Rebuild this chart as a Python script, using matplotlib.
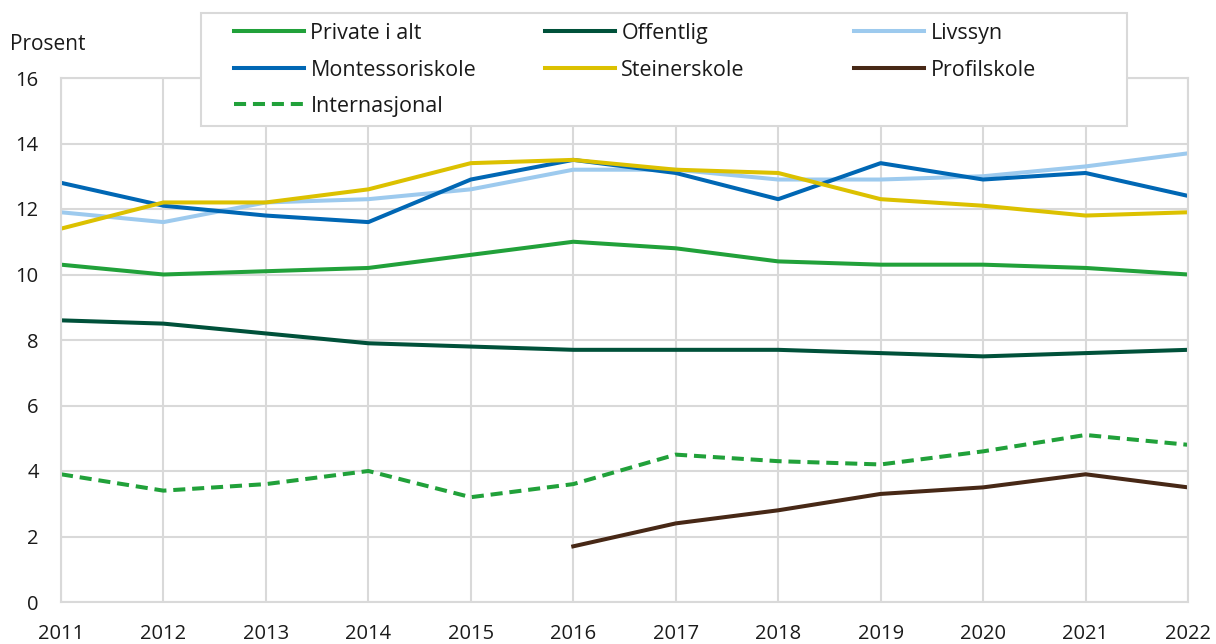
import numpy as np
import matplotlib
matplotlib.use("Agg")
import matplotlib.pyplot as plt
from matplotlib.patches import Rectangle

plt.rcParams['font.family'] = ['Open Sans', 'DejaVu Sans']

years = [2011, 2012, 2013, 2014, 2015, 2016, 2017, 2018, 2019, 2020, 2021, 2022]
private = [10.3, 10.0, 10.1, 10.2, 10.6, 11.0, 10.8, 10.4, 10.3, 10.3, 10.2, 10.0]
offentlig = [8.6, 8.5, 8.2, 7.9, 7.8, 7.7, 7.7, 7.7, 7.6, 7.5, 7.6, 7.7]
livssyn = [11.9, 11.6, 12.2, 12.3, 12.6, 13.2, 13.2, 12.9, 12.9, 13.0, 13.3, 13.7]
montessori = [12.8, 12.1, 11.8, 11.6, 12.9, 13.5, 13.1, 12.3, 13.4, 12.9, 13.1, 12.4]
steiner = [11.4, 12.2, 12.2, 12.6, 13.4, 13.5, 13.2, 13.1, 12.3, 12.1, 11.8, 11.9]
profil = [np.nan, np.nan, np.nan, np.nan, np.nan, 1.7, 2.4, 2.8, 3.3, 3.5, 3.9, 3.5]
internasjonal = [3.9, 3.4, 3.6, 4.0, 3.2, 3.6, 4.5, 4.3, 4.2, 4.6, 5.1, 4.8]

W, H = 1216, 644
fig = plt.figure(figsize=(W / 100, H / 100), dpi=100)
ax = fig.add_axes([61 / W, 1 - 602 / H, (1188 - 61) / W, (602 - 78) / H])

lw = 2.9
grid_c = '#d9d9d9'
text_c = '#1a1a1a'
l_priv, = ax.plot(years, private, color='#21a13a', lw=lw, label='Private i alt')
l_off, = ax.plot(years, offentlig, color='#00513a', lw=lw, label='Offentlig')
l_liv, = ax.plot(years, livssyn, color='#9dcaee', lw=lw, label='Livssyn')
l_mon, = ax.plot(years, montessori, color='#0067b4', lw=lw, label='Montessoriskole')
l_ste, = ax.plot(years, steiner, color='#dcc100', lw=lw, label='Steinerskole')
l_pro, = ax.plot(years, profil, color='#472816', lw=lw, label='Profilskole')
l_int, = ax.plot(years, internasjonal, color='#21a13a', lw=lw, dashes=(3, 1.7),
                 label='Internasjonal')
l_liv.set_zorder(1.9)

ax.set_xlim(2011, 2022)
ax.set_ylim(0, 16)
ax.set_xticks(years)
ax.set_yticks(range(0, 17, 2))
ax.grid(True, color=grid_c, lw=1.5)
ax.set_axisbelow(True)
for s in ax.spines.values():
    s.set_color(grid_c)
    s.set_linewidth(1.5)
ax.tick_params(length=0, labelsize=14.5, colors=text_c)
ax.tick_params(axis='y', pad=16)
ax.tick_params(axis='x', pad=16)

fig.text(10 / W, 1 - 44 / H, 'Prosent', fontsize=15, color=text_c, va='center', ha='left')

# legend: frame + three columns placed like the original
fig.patches.append(Rectangle((201 / W, 1 - 126 / H), (1127 - 201) / W, (126 - 13) / H,
                             transform=fig.transFigure, facecolor='white',
                             edgecolor=grid_c, lw=1.5, zorder=5))
cols = [([l_priv, l_mon, l_int], 234), ([l_off, l_ste], 545), ([l_liv, l_pro], 854)]
for hs, x0 in cols:
    leg = fig.legend(handles=hs, loc='upper left', bbox_to_anchor=(x0 / W, 1 - 23 / H),
                     frameon=False, fontsize=15.5, handlelength=3.25, handletextpad=0.3,
                     labelspacing=0.72, borderpad=0, borderaxespad=0)
    leg.set_zorder(6)
    for t in leg.get_texts():
        t.set_color(text_c)

fig.savefig('out.png', dpi=100)
